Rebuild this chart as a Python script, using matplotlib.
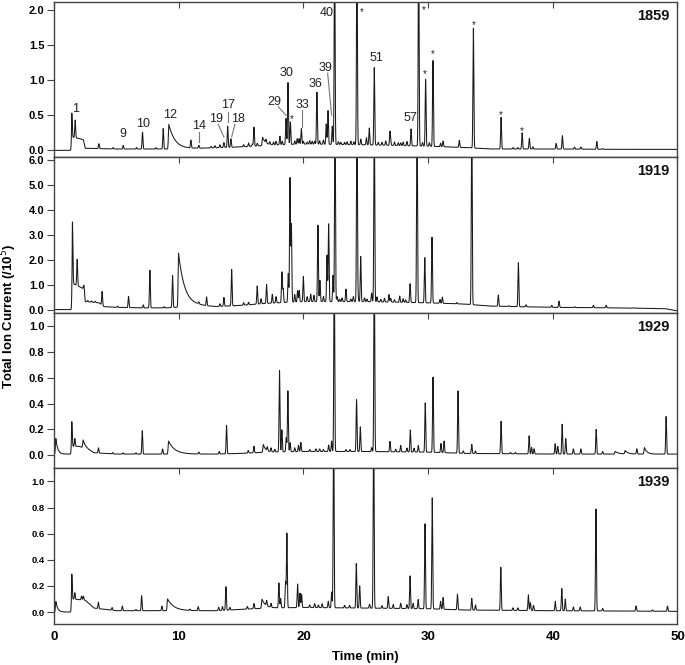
import numpy as np
import matplotlib
matplotlib.use("Agg")
import matplotlib.pyplot as plt
from matplotlib.ticker import FormatStrFormatter

plt.rcParams['font.family'] = ['Liberation Sans', 'DejaVu Sans']

# ------------------------------------------------------------------
# data (retention time in min, TIC /1e5)
# ------------------------------------------------------------------
years = ["1859", "1919", "1929", "1939"]

# 1859
base_1859_t = [0, 1.39, 1.41, 2.0, 2.35, 2.5, 5, 10, 15, 18, 20, 25, 30, 33, 35, 40, 45, 50]
base_1859_v = [0, 0, 0.19, 0.17, 0.15, 0.03, 0.02, 0.02, 0.05, 0.08, 0.09, 0.08, 0.06, 0.04, 0.02, 0.02, 0.015, 0.015]
peak_1859_t = [1.42, 1.69, 3.59, 4.74, 5.54, 6.61, 7.09, 8.16, 8.75, 10.97, 11.61, 12.6, 12.9, 13.3,
               13.62, 13.92, 14.18, 15.2, 15.6, 15.9, 16.03, 16.3, 17.0, 17.3, 17.6, 17.8, 18.11, 18.3,
               18.6, 18.76, 18.95, 19.3, 19.5, 19.65, 19.83, 20.0, 20.3, 20.5, 20.7, 20.9, 21.08,
               21.3, 21.6, 21.83, 21.97, 22.31, 22.5, 22.8, 23.0, 23.3, 23.5, 23.8, 24.05, 24.29,
               24.6, 25.05, 25.28, 25.68, 26.0, 26.3, 26.6, 26.94, 27.0, 27.3, 27.6, 27.8, 28.0,
               28.3, 28.63, 29.24, 29.55, 29.8, 30.1, 30.39, 31.0, 31.2, 32.5, 33.63, 35.85, 36.8,
               37.2, 37.54, 38.12, 38.4, 40.27, 40.77, 41.74, 42.25, 43.53, 44.0]
peak_1859_h = [0.34, 0.25, 0.07, 0.02, 0.05, 0.02, 0.24, 0.02, 0.29, 0.11, 0.04, 0.02, 0.03, 0.04,
               0.07, 0.30, 0.12, 0.03, 0.05, 0.03, 0.27, 0.04, 0.05, 0.04, 0.04, 0.05, 0.12, 0.05,
               0.37, 0.88, 0.32, 0.05, 0.08, 0.08, 0.22, 0.04, 0.03, 0.05, 0.04, 0.04, 0.74,
               0.05, 0.06, 0.29, 0.48, 0.26, 3.0, 0.04, 0.03, 0.03, 0.04, 0.05, 0.04, 3.0,
               0.08, 0.10, 0.24, 1.10, 0.04, 0.04, 0.06, 0.19, 0.05, 0.05, 0.04, 0.04, 0.05,
               0.06, 0.24, 3.0, 0.05, 0.95, 0.05, 1.22, 0.05, 0.08, 0.10, 1.70, 0.45, 0.02,
               0.02, 0.23, 0.15, 0.03, 0.08, 0.19, 0.03, 0.03, 0.11, 0.01]
tail_1859_t = [9.2, 16.72]
tail_1859_h = [0.35, 0.12]
tail_1859_w = [0.5, 0.25]

# 1919
base_1919_t = [0, 1.44, 1.46, 2.0, 2.4, 2.5, 3.6, 4.0, 5, 7, 9, 11.5, 13, 15, 17, 20, 25, 30, 33, 35, 40, 45, 49, 50]
base_1919_v = [0.03, 0.03, 1.08, 0.95, 0.85, 0.35, 0.3, 0.15, 0.12, 0.1, 0.1, 0.18, 0.15, 0.2, 0.28, 0.35, 0.35,
               0.3, 0.25, 0.17, 0.12, 0.1, 0.07, -0.02]
peak_1919_t = [1.47, 1.85, 2.38, 2.7, 3.0, 3.3, 3.85, 5.09, 5.97, 7.15, 7.68, 8.83, 9.5, 11.61, 12.23,
               13.3, 13.62, 14.24, 15.2, 15.6, 16.29, 16.6, 17.04, 17.5, 17.8, 18.27, 18.37, 18.78,
               18.92, 19.03, 19.3, 19.53, 19.66, 19.99, 20.3, 20.58, 20.84, 21.16, 21.32, 21.6, 21.89,
               22.02, 22.37, 22.53, 22.7, 22.9, 23.1, 23.41, 23.8, 24.0, 24.29, 24.37, 24.59, 24.9,
               25.1, 25.47, 25.68, 25.9, 26.2, 26.5, 26.86, 27.0, 27.3, 27.72, 28.0, 28.2, 28.55,
               29.11, 29.73, 30.31, 30.95, 31.14, 32.3, 33.5, 35.63, 36.5, 37.24, 37.86, 39.92,
               40.5, 41.8, 43.26, 44.28, 46.5]
peak_1919_h = [2.45, 1.05, 0.15, 0.05, 0.05, 0.05, 0.55, 0.05, 0.45, 0.12, 1.5, 0.05, 1.27, 0.08, 0.35,
               0.1, 0.35, 1.45, 0.1, 0.1, 0.72, 0.2, 0.75, 0.35, 0.25, 1.22, 0.55, 1.15,
               4.95, 3.1, 0.3, 0.45, 0.45, 1.0, 0.2, 0.3, 0.25, 3.05, 0.85, 0.2, 1.85,
               3.1, 1.05, 8.0, 0.2, 0.1, 0.15, 0.5, 0.1, 0.2, 8.0, 0.25, 1.8, 0.15,
               0.1, 0.35, 8.0, 0.2, 0.1, 0.15, 0.3, 0.15, 0.1, 0.25, 0.15, 0.1, 0.75,
               8.0, 1.8, 2.62, 0.15, 0.25, 0.05, 8.0, 0.45, 0.03, 1.75, 0.08, 0.08,
               0.25, 0.03, 0.1, 0.1, 0.02]
tail_1919_t = [9.98]
tail_1919_h = [2.15]
tail_1919_w = [0.5]

# 1929
base_1929_t = [0, 1.38, 1.41, 2.0, 2.6, 3.2, 5, 10, 13, 15, 17, 20, 25, 30, 33, 40, 45, 50]
base_1929_v = [0.01, 0.01, 0.07, 0.07, 0.05, 0.02, 0.01, 0.01, 0.01, 0.015, 0.025, 0.03, 0.03, 0.025,
               0.015, 0.01, 0.01, 0.01]
peak_1929_t = [1.42, 1.66, 3.56, 4.7, 5.54, 6.56, 7.07, 8.7, 11.61, 13.24, 13.83, 15.57, 16.03, 17.1,
               17.4, 17.7, 18.08, 18.27, 18.62, 18.75, 18.93, 19.3, 19.6, 19.79, 20.5, 21.0, 21.3,
               21.6, 22.02, 22.26, 22.47, 23.41, 23.73, 24.26, 24.56, 25.47, 25.68, 26.94, 27.4,
               27.8, 28.3, 28.57, 28.87, 29.21, 29.77, 30.39, 31.03, 31.28, 32.4, 32.82, 33.5, 33.8,
               35.85, 36.6, 37.0, 38.1, 38.3, 38.5, 40.19, 40.4, 40.75, 41.04, 41.65, 42.25, 43.48,
               44.0, 46.74, 49.09]
peak_1929_h = [0.19, 0.06, 0.04, 0.01, 0.01, 0.01, 0.18, 0.04, 0.015, 0.02, 0.22, 0.02, 0.05, 0.03,
               0.03, 0.02, 0.63, 0.17, 0.11, 0.47, 0.07, 0.03, 0.05, 0.07, 0.015, 0.02, 0.02,
               0.015, 0.05, 0.08, 1.5, 0.015, 0.015, 0.4, 0.19, 0.03, 1.5, 0.08, 0.02,
               0.05, 0.03, 0.17, 0.03, 0.05, 0.38, 0.58, 0.07, 0.09, 0.48, 0.02, 0.07, 0.02,
               0.25, 0.01, 0.01, 0.14, 0.05, 0.04, 0.08, 0.06, 0.23, 0.12, 0.04, 0.04, 0.19,
               0.02, 0.04, 0.29]
tail_1929_t = [0.14, 2.33, 9.18, 16.78, 45.0, 45.8, 47.35]
tail_1929_h = [0.12, 0.06, 0.1, 0.06, 0.02, 0.025, 0.05]
tail_1929_w = [0.15, 0.2, 0.5, 0.2, 0.3, 0.25, 0.2]

# 1939
base_1939_t = [0, 1.38, 1.41, 2.5, 3.2, 5, 10, 13, 15, 17, 20, 25, 30, 33, 40, 50]
base_1939_v = [0.0, 0.0, 0.1, 0.09, 0.03, 0.01, 0.01, 0.01, 0.02, 0.03, 0.035, 0.03, 0.025, 0.015, 0.01, 0.005]
peak_1939_t = [1.42, 1.66, 2.2, 2.35, 3.55, 4.65, 5.47, 6.56, 7.02, 8.65, 10.9, 11.56, 13.2, 13.5,
               13.78, 14.1, 15.5, 16.03, 17.05, 17.4, 18.03, 18.17, 18.56, 18.67, 19.53, 19.72,
               19.85, 20.5, 20.9, 21.2, 21.5, 21.99, 22.26, 22.42, 23.3, 23.7, 24.24, 24.51, 25.3,
               25.63, 26.3, 26.8, 27.2, 27.8, 28.3, 28.55, 28.8, 29.2, 29.75, 30.33, 31.0, 31.2,
               32.35, 33.5, 33.8, 35.83, 36.8, 37.2, 38.04, 38.2, 38.45, 40.2, 40.72, 41.0, 41.65,
               42.2, 43.46, 44.0, 46.68, 48.0, 49.2]
peak_1939_h = [0.19, 0.05, 0.03, 0.03, 0.05, 0.02, 0.035, 0.01, 0.115, 0.035, 0.01, 0.03, 0.025, 0.03,
               0.18, 0.02, 0.02, 0.04, 0.04, 0.03, 0.19, 0.07, 0.2, 0.57, 0.18, 0.11,
               0.1, 0.02, 0.03, 0.02, 0.03, 0.05, 0.12, 1.5, 0.02, 0.02, 0.34, 0.17, 0.03,
               1.5, 0.02, 0.09, 0.03, 0.04, 0.03, 0.25, 0.04, 0.07, 0.65, 0.85, 0.06, 0.09,
               0.12, 0.09, 0.04, 0.33, 0.02, 0.02, 0.12, 0.06, 0.04, 0.07, 0.17, 0.09, 0.03,
               0.03, 0.78, 0.02, 0.04, 0.01, 0.04]
tail_1939_t = [0.14, 9.1, 16.67]
tail_1939_h = [0.08, 0.09, 0.07]
tail_1939_w = [0.15, 0.5, 0.3]

# peak labels on the 1859 trace: text, text pos, leader line (or None)
labels_1859 = [
    ("1", 1.74, 0.59, None), ("9", 5.49, 0.24, None), ("10", 7.15, 0.37, None),
    ("12", 9.34, 0.51, None), ("14", 11.61, 0.34, ((11.61, 0.26), (11.61, 0.12))),
    ("19", 12.95, 0.45, ((13.16, 0.37), (13.62, 0.19))),
    ("17", 13.92, 0.65, ((13.92, 0.54), (13.92, 0.40))),
    ("18", 14.77, 0.45, ((14.5, 0.37), (14.24, 0.19))),
    ("29", 17.63, 0.69, ((17.98, 0.62), (18.6, 0.50))),
    ("30", 18.65, 1.10, None), ("33", 19.93, 0.65, ((19.85, 0.57), (19.85, 0.33))),
    ("36", 21.0, 0.95, None), ("39", 21.8, 1.17, ((21.94, 1.10), (22.26, 0.50))),
    ("40", 21.86, 1.96, None), ("51", 25.87, 1.32, None), ("57", 28.55, 0.46, None),
]
star_t = [19.1, 24.7, 29.65, 29.75, 30.39, 33.63, 35.85, 37.54]
star_v = [0.48, 2.0, 2.02, 1.11, 1.40, 1.81, 0.53, 0.30]

# ------------------------------------------------------------------
t = np.linspace(0, 50, 10001)
SIG = 0.035


def trace(bt, bv, pt, ph, tt, th, tw):
    y = np.interp(t, bt, bv)
    for c, h in zip(pt, ph):
        y += h * np.exp(-0.5 * ((t - c) / SIG) ** 2)
    for c, h, w in zip(tt, th, tw):
        rise = np.exp(-0.5 * ((t - c) / SIG) ** 2)
        fall = np.exp(-np.clip(t - c, 0, None) / w)
        y += h * np.where(t < c, rise, fall)
    return y


traces = [
    trace(base_1859_t, base_1859_v, peak_1859_t, peak_1859_h, tail_1859_t, tail_1859_h, tail_1859_w),
    trace(base_1919_t, base_1919_v, peak_1919_t, peak_1919_h, tail_1919_t, tail_1919_h, tail_1919_w),
    trace(base_1929_t, base_1929_v, peak_1929_t, peak_1929_h, tail_1929_t, tail_1929_h, tail_1929_w),
    trace(base_1939_t, base_1939_v, peak_1939_t, peak_1939_h, tail_1939_t, tail_1939_h, tail_1939_w),
]
ylims = [(-0.1, 2.11), (-0.1, 6.1), (-0.1, 1.1), (-0.09, 1.1)]
yticks = [np.arange(0, 2.01, 0.5), np.arange(0, 6.01, 1.0),
          np.arange(0, 1.01, 0.2), np.arange(0, 1.01, 0.2)]
ysize = [8, 8, 8, 6.8]

fig, axes = plt.subplots(4, 1, figsize=(6.85, 6.65), dpi=100, sharex=True)
fig.subplots_adjust(left=0.079, right=0.989, top=0.997, bottom=0.062, hspace=0)

for i, ax in enumerate(axes):
    ax.plot(t, traces[i], color='#1a1a1a', lw=0.75)
    ax.set_xlim(0, 50)
    ax.set_ylim(*ylims[i])
    ax.set_yticks(yticks[i])
    ax.yaxis.set_major_formatter(FormatStrFormatter('%.1f'))
    for s in ax.spines.values():
        s.set_color('#444444')
        s.set_linewidth(1.0)
    ax.tick_params(axis='y', direction='out', length=5, width=0.8, color='#444444',
                   labelsize=ysize[i], pad=2)
    for lab in ax.get_yticklabels():
        lab.set_fontweight('bold')
    ax.set_xticks(range(0, 51, 10))
    ax.tick_params(axis='x', top=True, bottom=False, direction='in', length=4,
                   width=0.8, color='#444444', labelbottom=(i == 3), labelsize=9.5, pad=5)
    ax.text(0.987, 0.91, years[i], transform=ax.transAxes, ha='right', va='center',
            fontsize=10.5, fontweight='bold', color='#111111')

for lab in axes[3].get_xticklabels():
    lab.set_fontweight('bold')
axes[3].set_xlabel("Time (min)", fontsize=9.5, fontweight='bold', labelpad=6)
fig.text(0.013, 0.525, "Total Ion Current (/10$^5$)", rotation=90, ha='center', va='center',
         fontsize=9.5, fontweight='bold')

ax = axes[0]
for txt, x, y, line in labels_1859:
    ax.text(x, y, txt, ha='center', va='center', fontsize=9, color='#222222')
    if line is not None:
        ax.plot([line[0][0], line[1][0]], [line[0][1], line[1][1]], color='#777777', lw=0.8)
for x, y in zip(star_t, star_v):
    ax.text(x, y - 0.03, "*", ha='center', va='center', fontsize=7, color='#222222')

fig.savefig("out.png", dpi=100)
